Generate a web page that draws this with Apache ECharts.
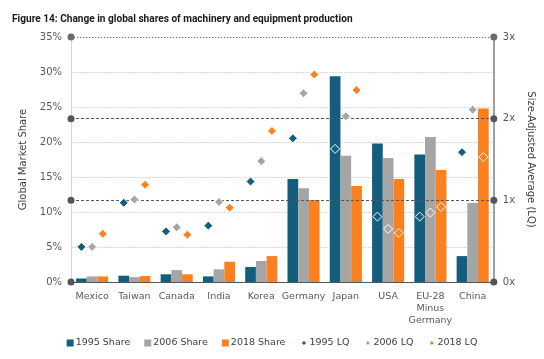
<!DOCTYPE html>
<html><head><meta charset="utf-8">
<script src="https://cdn.jsdelivr.net/npm/echarts@6/dist/echarts.min.js"></script>
<style>html,body{margin:0;padding:0;background:#fff}#c{width:544px;height:359px}</style>
</head><body><div id="c"></div>
<script>
const categories = ['Mexico','Taiwan','Canada','India','Korea','Germany','Japan','USA','EU-28\nMinus\nGermany','China'];
const share1995 = [0.5, 0.9, 1.1, 0.8, 2.15, 14.7, 29.4, 19.8, 18.2, 3.7];
const share2006 = [0.8, 0.7, 1.7, 1.8, 3.0, 13.4, 18.05, 17.7, 20.7, 11.3];
const share2018 = [0.8, 0.85, 1.1, 2.9, 3.7, 11.7, 13.7, 14.7, 16.0, 24.8];
const lq1995 = [0.43, 0.97, 0.62, 0.69, 1.23, 1.76, 1.63, 0.80, 0.80, 1.59];
const lq2006 = [0.43, 1.01, 0.67, 0.98, 1.48, 2.31, 2.03, 0.65, 0.85, 2.11];
const lq2018 = [0.59, 1.19, 0.58, 0.91, 1.85, 2.54, 2.35, 0.60, 0.92, 1.53];
const leftTicks = [0, 35, 5];
const rightTicks = [0, 3, 1];

const C1 = '#135e7c', C2 = '#a5a5a5', C3 = '#fb8020';
const FONT = 'DejaVu Sans';
const BW = 10.7;
const chart = echarts.init(document.getElementById('c'), null, {renderer: 'canvas'});

function barS(name, data, color) {
  return {name, type: 'bar', data, barWidth: BW, barGap: '0%', itemStyle: {color}, z: 2};
}
function lqS(name, data, color, off) {
  return {name, type: 'scatter', yAxisIndex: 1, data, symbol: 'diamond', symbolSize: 9,
    symbolOffset: [off, 0], itemStyle: {color, borderColor: '#fff', borderWidth: 1, opacity: 1}, z: 5};
}
const lq1 = lqS('1995 LQ', lq1995, C1, -BW);
lq1.markLine = {
  silent: true, symbol: ['circle', 'circle'], symbolSize: 7, animation: false, label: {show: false},
  data: [
    {yAxis: 0, lineStyle: {color: '#555555', type: 'solid', width: 1}},
    {yAxis: 1, lineStyle: {color: '#555555', type: [3, 2], width: 1}},
    {yAxis: 2, lineStyle: {color: '#555555', type: [3, 2], width: 1}},
    {yAxis: 3, lineStyle: {color: '#6a6a6a', type: [1, 2], width: 1}}
  ]
};

chart.setOption({
  animation: false,
  title: {text: 'Figure 14: Change in global shares of machinery and equipment production', left: 7, top: 9,
    textStyle: {fontFamily: 'Roboto', fontWeight: 'bold', fontSize: 10.1, color: '#1a1a1a'}},
  grid: {left: 71, right: 45, top: 37, bottom: 77},
  legend: {
    bottom: 6, left: 'center', itemWidth: 7, itemHeight: 7, itemGap: 14,
    textStyle: {fontFamily: FONT, fontSize: 9.5, color: '#404040', padding: [0, 0, 0, -3]},
    data: [
      {name: '1995 Share', icon: 'rect'}, {name: '2006 Share', icon: 'rect'}, {name: '2018 Share', icon: 'rect'},
      {name: '1995 LQ', icon: 'diamond'}, {name: '2006 LQ', icon: 'diamond'}, {name: '2018 LQ', icon: 'diamond'}
    ]
  },
  xAxis: {
    type: 'category', data: categories,
    axisLine: {lineStyle: {color: '#5e5a66', width: 1}}, axisTick: {show: false},
    axisLabel: {fontFamily: FONT, fontSize: 9.5, color: '#595959', margin: 9, lineHeight: 12, interval: 0}
  },
  yAxis: [
    {type: 'value', min: leftTicks[0], max: leftTicks[1], interval: leftTicks[2],
      name: 'Global Market Share', nameLocation: 'middle', nameGap: 32, nameRotate: 90,
      nameTextStyle: {fontFamily: FONT, fontSize: 10, color: '#404040'},
      axisLine: {show: true, lineStyle: {color: '#d0d0d0', type: [2, 1]}},
      axisTick: {show: false},
      axisLabel: {formatter: '{value}%', fontFamily: FONT, fontSize: 10, color: '#595959', margin: 9},
      splitLine: {lineStyle: {color: '#d9d9d9', type: [2, 1]}}},
    {type: 'value', min: rightTicks[0], max: rightTicks[1], interval: rightTicks[2], position: 'right',
      name: 'Size-Adjusted Average (LQ)', nameLocation: 'middle', nameGap: 25, nameRotate: -90,
      nameTextStyle: {fontFamily: FONT, fontSize: 10, color: '#404040'},
      axisLine: {show: true, lineStyle: {color: '#7f7f7f', width: 1.5}},
      axisTick: {show: false},
      axisLabel: {formatter: '{value}x', fontFamily: FONT, fontSize: 10, color: '#595959', margin: 9},
      splitLine: {show: false}}
  ],
  series: [
    barS('1995 Share', share1995, C1),
    barS('2006 Share', share2006, C2),
    barS('2018 Share', share2018, C3),
    lq1,
    lqS('2006 LQ', lq2006, C2, 0),
    lqS('2018 LQ', lq2018, C3, BW)
  ]
});
</script></body></html>
